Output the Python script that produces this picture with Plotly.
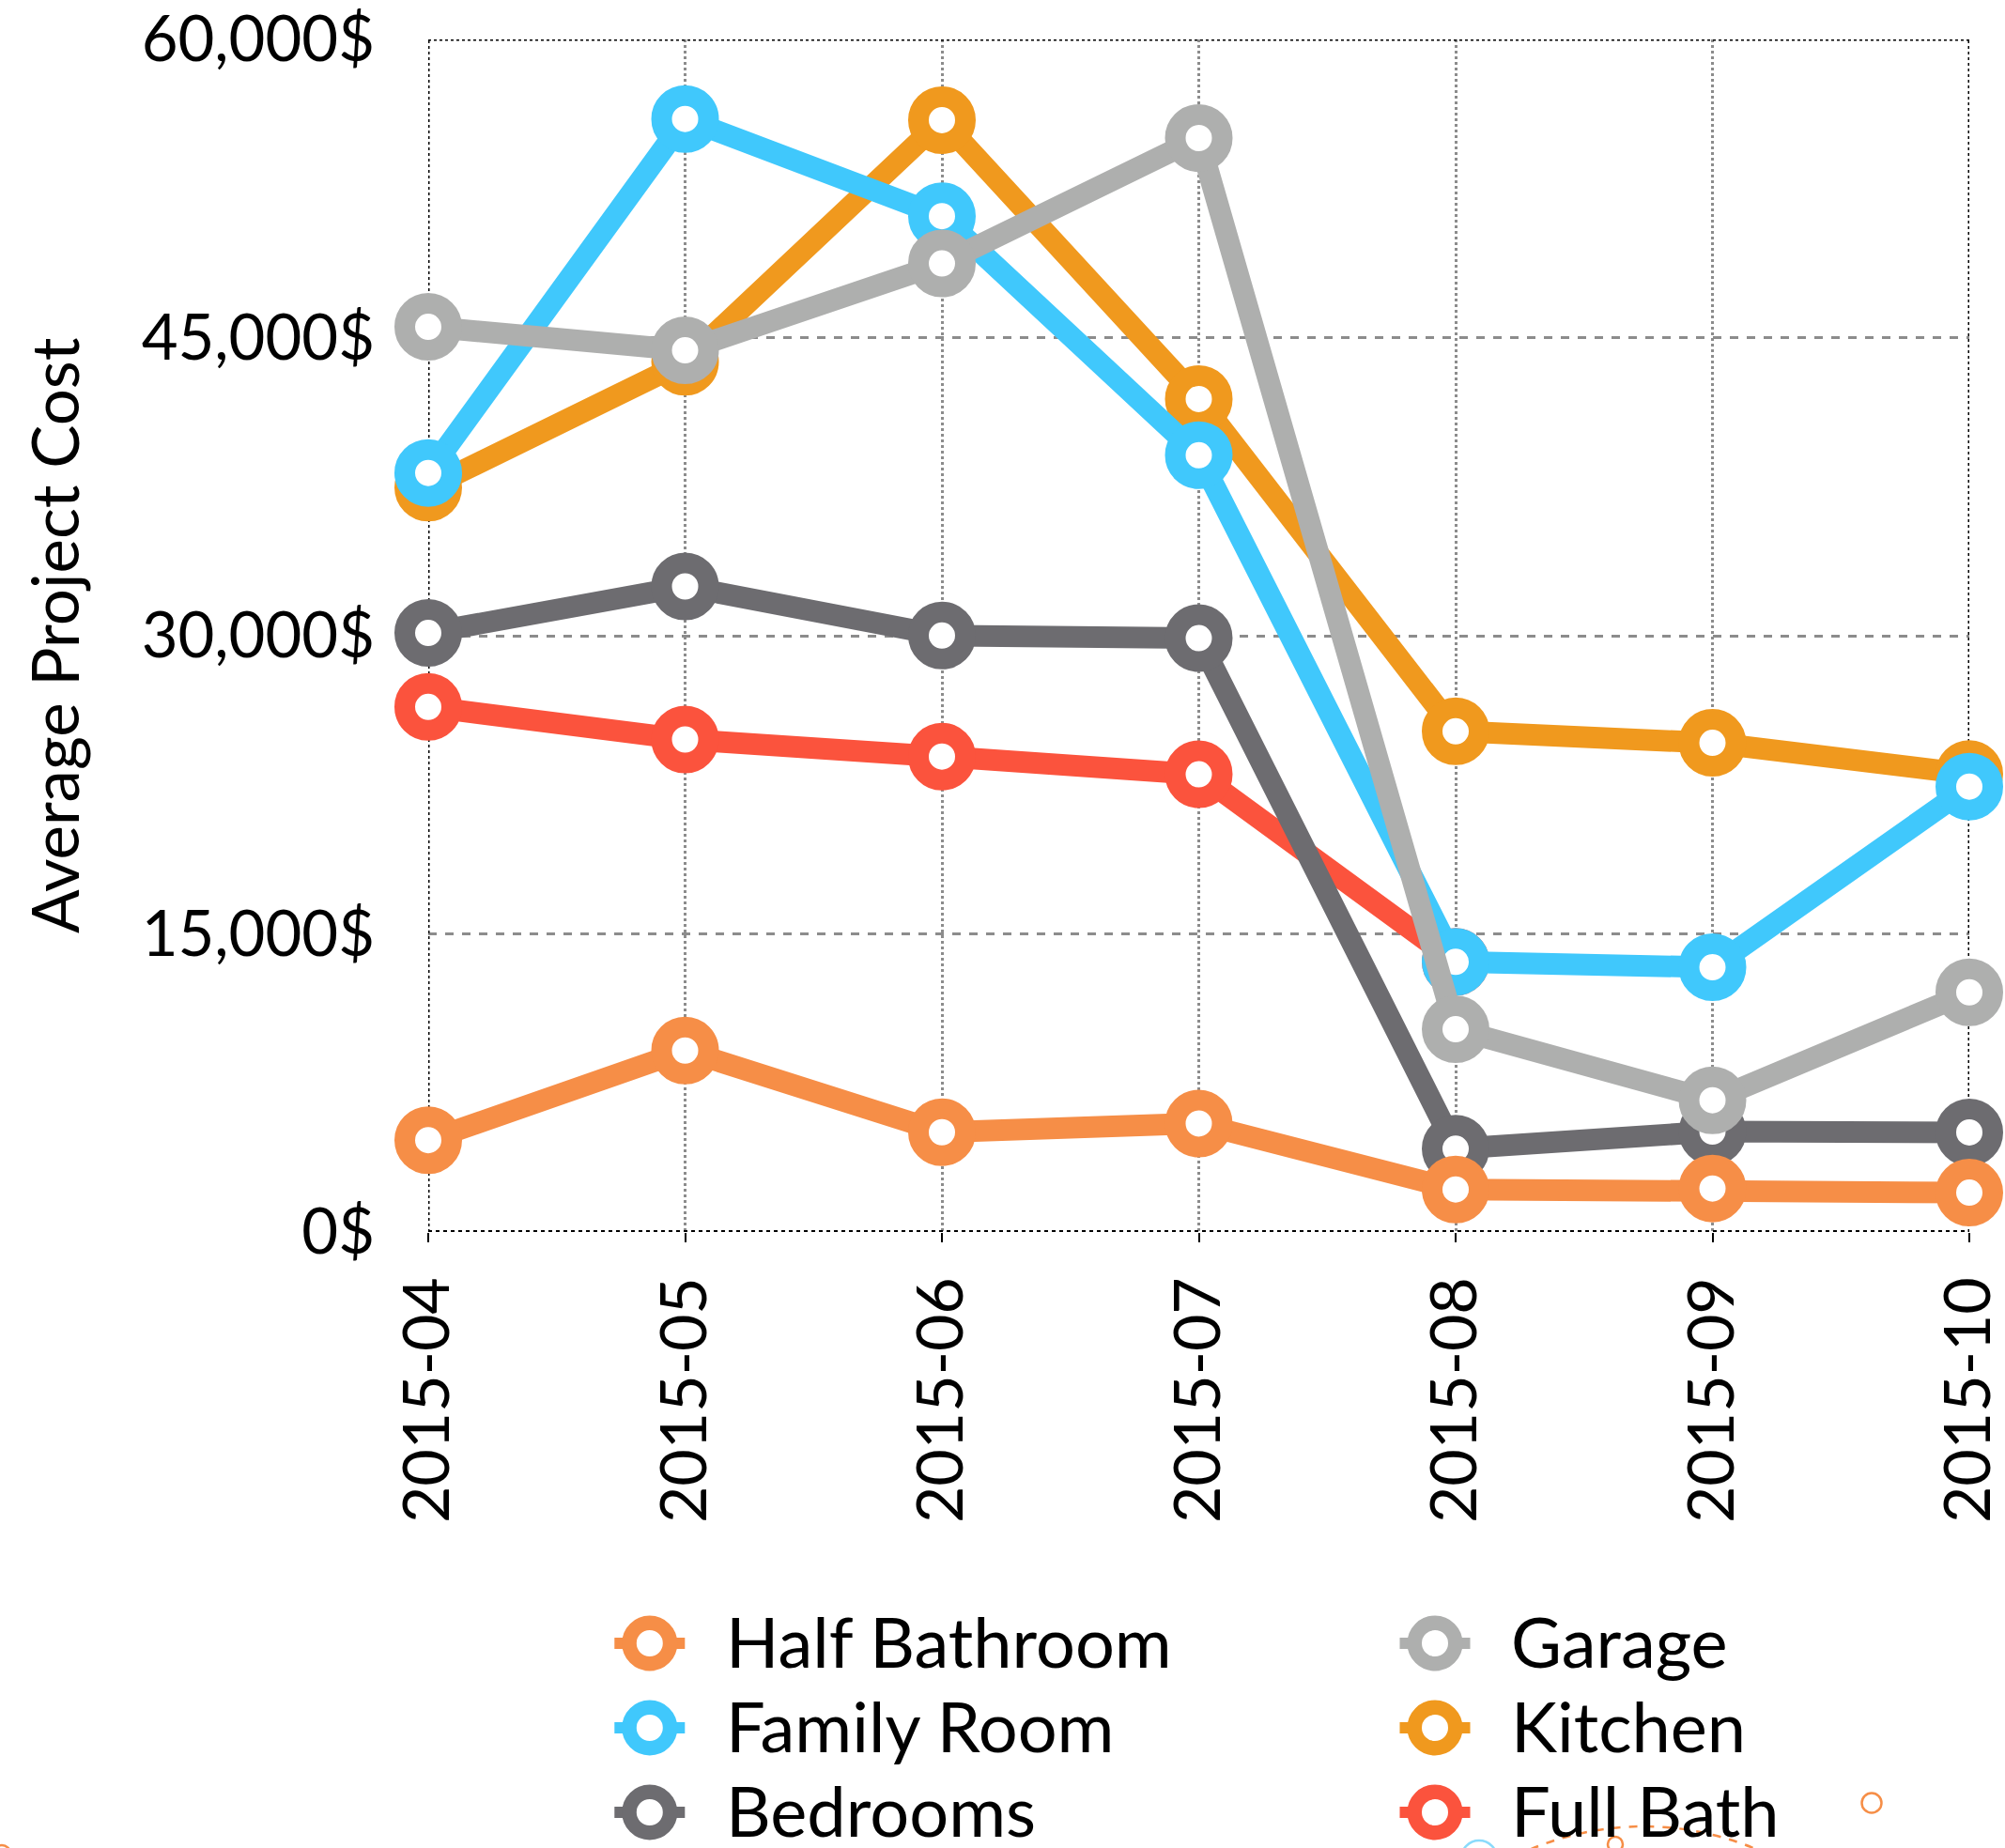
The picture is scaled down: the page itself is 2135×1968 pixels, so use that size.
import plotly.graph_objects as go

# ---- data -------------------------------------------------------------
months = ["2015-04", "2015-05", "2015-06", "2015-07", "2015-08", "2015-09", "2015-10"]

half_bathroom = [4620, 9130, 5020, 5460, 2140, 2190, 1980]
family_room = [38190, 56000, 51110, 39080, 13590, 13320, 22410]
bedrooms = [30140, 32480, 30010, 29880, 4190, 5050, 5010]
garage = [45540, 44360, 48730, 55040, 10200, 6630, 12060]
kitchen = [37450, 43780, 55940, 41910, 25190, 24610, 23040]
full_bath = [26420, 24780, 23920, 23030, 13590, None, None]

y_ticks = [0, 15000, 30000, 45000, 60000]
y_tick_labels = [f"{v:,}$" for v in y_ticks]

series = {
    "Half Bathroom": (half_bathroom, "#F68E47"),
    "Family Room": (family_room, "#40C8FC"),
    "Bedrooms": (bedrooms, "#6D6C70"),
    "Garage": (garage, "#AEAFAE"),
    "Kitchen": (kitchen, "#F0991E"),
    "Full Bath": (full_bath, "#FB533D"),
}
draw_order = ["Full Bath", "Kitchen", "Bedrooms", "Family Room", "Garage", "Half Bathroom"]
legend_order = ["Half Bathroom", "Family Room", "Bedrooms", "Garage", "Kitchen", "Full Bath"]

# ---- page geometry ----------------------------------------------------
W, H = 2135, 1968
PLOT_L, PLOT_R, PLOT_T, PLOT_B = 456, 2097, 42, 1312
FONT = "Lato, 'Open Sans', sans-serif"


def px_x(px):
    return px / W


def px_y(py):
    return 1 - py / H


fig = go.Figure()

# ---- dotted frame, drawn first so the series sit on top ---------------
y_lo, y_hi = y_ticks[0], y_ticks[-1]
frame_lines = [
    (months, [y_hi] * len(months), 3),                 # top
    ([months[0], months[0]], [y_lo, y_hi], 3),         # left
    ([months[-1], months[-1]], [y_lo, y_hi], 3),       # right
    (months, [y_lo] * len(months), 4),                 # bottom axis
]
for fx, fy, fw in frame_lines:
    fig.add_trace(go.Scatter(
        x=fx, y=fy, mode="lines", line=dict(color="black", width=fw, dash="dot"),
        hoverinfo="skip", showlegend=False, cliponaxis=False,
        xaxis="x", yaxis="y",
    ))

for name in draw_order:
    vals, color = series[name]
    fig.add_trace(go.Scatter(
        x=months, y=vals, name=name, mode="lines+markers",
        line=dict(color=color, width=23),
        marker=dict(size=50, color="white", line=dict(color=color, width=22)),
        cliponaxis=False, showlegend=False, connectgaps=False,
        xaxis="x", yaxis="y",
    ))

# ---- legend drawn in its own hidden subplot ---------------------------
COL_GAP = 836.2
ROW_GAP = 90.0
COL0_X, ROW0_Y = 691.8, 1750.0
LEG_DOMAIN_TOP = 0.3
stub = 37.5 / COL_GAP
text_dx = 79.0 / COL_GAP
text_dy = -3.0 / ROW_GAP

for i, name in enumerate(legend_order):
    _, color = series[name]
    col, row = i // 3, i % 3
    fig.add_trace(go.Scatter(
        x=[col - stub, col + stub], y=[row, row], mode="lines",
        line=dict(color=color, width=12), showlegend=False,
        hoverinfo="skip", xaxis="x2", yaxis="y2", cliponaxis=False,
    ))
    fig.add_trace(go.Scatter(
        x=[col], y=[row], mode="markers",
        marker=dict(size=43.5, color="white", line=dict(color=color, width=15.5)),
        showlegend=False, hoverinfo="skip", xaxis="x2", yaxis="y2", cliponaxis=False,
    ))
    fig.add_annotation(
        x=col + text_dx, y=row + text_dy, xref="x2", yref="y2", text=name,
        showarrow=False, xanchor="left", yanchor="middle",
        font=dict(family=FONT, size=74, color="black"),
    )

leg_top_px = H * (1 - LEG_DOMAIN_TOP)
x2_range = [-COL0_X / COL_GAP, (W - COL0_X) / COL_GAP]
y2_range = [(H - ROW0_Y) / ROW_GAP, (leg_top_px - ROW0_Y) / ROW_GAP]


# ---- small ornaments along the bottom edge ----------------------------
def ring(cx, cy, r, color, dash="solid", width=2.5):
    fig.add_shape(type="circle", xref="paper", yref="paper", layer="below",
                  x0=px_x(cx - r), x1=px_x(cx + r), y0=px_y(cy + r), y1=px_y(cy - r),
                  line=dict(color=color, width=width, dash=dash))


ring(1993, 1920, 10.5, "#F68E47")
ring(1720, 1964, 8, "#F68E47")
ring(1750, 2254, 309, "#F68E47", dash="dash")
ring(1575, 1979, 19, "#8ADBFB")
ring(2, 1974, 9, "#F68E47")

# ---- axis title -------------------------------------------------------
fig.add_annotation(
    x=px_x(57), y=px_y((PLOT_T + PLOT_B) / 2), xref="paper", yref="paper",
    text="Average Project Cost", textangle=-90, showarrow=False,
    xanchor="center", yanchor="middle",
    font=dict(family=FONT, size=69, color="black"),
)

fig.update_layout(
    width=W, height=H,
    margin=dict(l=0, r=0, t=0, b=0, autoexpand=False),
    paper_bgcolor="white", plot_bgcolor="white",
    font=dict(family=FONT, color="black"),
    showlegend=False,
    xaxis=dict(
        domain=[px_x(PLOT_L), px_x(PLOT_R)], anchor="y", automargin=False,
        type="category", range=[0, len(months) - 1],
        showgrid=True, gridcolor="#8c8c8c", gridwidth=3, griddash="dot",
        showline=False, zeroline=False,
        ticks="outside", ticklen=10, tickwidth=2, tickcolor="black",
        tickangle=-90, ticklabelstandoff=10, ticklabeloverflow="allow",
        tickfont=dict(family=FONT, size=68, color="black"),
    ),
    yaxis=dict(
        domain=[px_y(PLOT_B), px_y(PLOT_T)], anchor="x", automargin=False,
        range=[y_lo, y_hi], tickvals=y_ticks, ticktext=y_tick_labels,
        showgrid=True, gridcolor="#8c8c8c", gridwidth=3, griddash="dash",
        showline=False, zeroline=False, ticks="", ticklabelstandoff=56,
        ticklabeloverflow="allow",
        tickfont=dict(family=FONT, size=67, color="black"),
    ),
    xaxis2=dict(domain=[0, 1], anchor="y2", range=x2_range, visible=False,
                fixedrange=True, automargin=False),
    yaxis2=dict(domain=[0, LEG_DOMAIN_TOP], anchor="x2", range=y2_range,
                visible=False, fixedrange=True, automargin=False),
)

fig.write_html("out.html")
